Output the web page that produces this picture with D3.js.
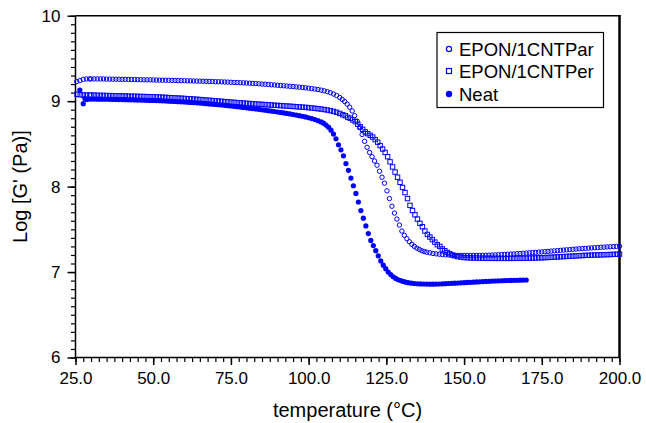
<!DOCTYPE html>
<html>
<head>
<meta charset="utf-8">
<script src="https://cdn.jsdelivr.net/npm/d3@7"></script>
<style>
  body { margin: 0; background: #fff; }
  text { font-family: Arial, "Liberation Sans", sans-serif; fill: #000; }
</style>
</head>
<body>
<svg id="chart" width="646" height="423"></svg>
<script>
// Storage modulus vs temperature, three epoxy samples
const seriesNames = ["EPON/1CNTPar", "EPON/1CNTPer", "Neat"];
const xTicks = [25, 50, 75, 100, 125, 150, 175, 200];
const yTicks = [6, 7, 8, 9, 10];
const xLabel = "temperature (°C)";
const yLabel = "Log [G' (Pa)]";

// [temperature °C, log G']
const par = [
  [25.4,9.23],[26.4,9.24],[27.5,9.255],[28.5,9.26],[29.5,9.26],
  [30,9.26],[31,9.26],[32,9.26],[33,9.26],[34,9.26],[35,9.258],[36,9.258],[37,9.257],[38,9.257],[39,9.256],
  [40,9.255],[41,9.255],[42,9.254],[43,9.253],[44,9.253],[45,9.252],[46,9.251],[47,9.25],[48,9.25],[49,9.249],
  [50,9.248],[51,9.247],[52,9.246],[53,9.245],[54,9.245],[55,9.244],[56,9.243],[57,9.242],[58,9.241],[59,9.24],
  [60,9.239],[61,9.238],[62,9.237],[63,9.236],[64,9.235],[65,9.234],[66,9.233],[67,9.232],[68,9.231],[69,9.23],
  [70,9.228],[71,9.227],[72,9.226],[73,9.224],[74,9.223],[75,9.221],[76,9.219],[77,9.218],[78,9.216],[79,9.214],
  [80,9.212],[81,9.21],[82,9.208],[83,9.206],[84,9.203],[85,9.2],[86,9.198],[87,9.195],[88,9.192],[89,9.189],
  [90,9.186],[91,9.183],[92,9.18],[93,9.177],[94,9.174],[95,9.171],[96,9.167],[97,9.164],[98,9.16],[99,9.156],
  [100,9.152],[101,9.147],[102,9.142],[103,9.136],[104,9.129],[105,9.121],[106,9.111],[107,9.099],[108,9.084],[109,9.066],
  [110,9.043],[110.8,9.02],[111.6,8.995],[112.4,8.965],[113.2,8.93],[114,8.885],[114.8,8.83],[115.6,8.765],[116.4,8.69],[117.2,8.61],
  [118,8.53],[118.8,8.46],[119.6,8.40],[120.4,8.35],[121.2,8.30],[122,8.25],[122.8,8.18],[123.6,8.11],[124.4,8.04],[125.2,7.95],
  [126,7.86],[126.8,7.77],[127.6,7.69],[128.4,7.62],[129.2,7.55],[130,7.48],[130.8,7.43],[131.6,7.39],[132.4,7.355],[133.2,7.325],
  [134,7.30],[134.8,7.28],[135.6,7.265],[136.4,7.25],[137.2,7.24],[138,7.232],[139,7.225],[140,7.218],[141,7.213],[142,7.209],
  [143,7.205],[144,7.202],[145,7.2],[146,7.198],[147,7.197],[148,7.196],[149,7.195],[150,7.195],[151,7.194],[152,7.194],
  [153,7.194],[154,7.194],[155,7.195],[156,7.196],[157,7.197],[158,7.198],[159,7.199],[160,7.2],[161,7.202],[162,7.204],
  [163,7.206],[164,7.208],[165,7.21],[166,7.212],[167,7.215],[168,7.217],[169,7.22],[170,7.222],[171,7.225],[172,7.228],
  [173,7.23],[174,7.233],[175,7.236],[176,7.239],[177,7.242],[178,7.245],[179,7.248],[180,7.251],[181,7.254],[182,7.257],
  [183,7.26],[184,7.263],[185,7.266],[186,7.269],[187,7.272],[188,7.275],[189,7.277],[190,7.28],[191,7.282],[192,7.285],
  [193,7.287],[194,7.29],[195,7.292],[196,7.294],[197,7.296],[198,7.298],[199,7.3],[200,7.302]
];

const per = [
  [25.5,9.08],[26.5,9.075],[27.5,9.072],[28.5,9.071],[29.5,9.07],
  [30,9.07],[31,9.07],[32,9.069],[33,9.068],[34,9.067],[35,9.066],[36,9.065],[37,9.064],[38,9.063],[39,9.062],
  [40,9.061],[41,9.06],[42,9.059],[43,9.058],[44,9.057],[45,9.056],[46,9.055],[47,9.054],[48,9.053],[49,9.052],
  [50,9.051],[51,9.05],[52,9.048],[53,9.046],[54,9.044],[55,9.042],[56,9.04],[57,9.038],[58,9.036],[59,9.034],
  [60,9.032],[61,9.029],[62,9.027],[63,9.024],[64,9.022],[65,9.019],[66,9.016],[67,9.013],[68,9.01],[69,9.007],
  [70,9.004],[71,9.001],[72,8.998],[73,8.995],[74,8.992],[75,8.989],[76,8.986],[77,8.983],[78,8.98],[79,8.977],
  [80,8.975],[81,8.972],[82,8.97],[83,8.967],[84,8.965],[85,8.962],[86,8.96],[87,8.957],[88,8.955],[89,8.952],
  [90,8.95],[91,8.948],[92,8.945],[93,8.943],[94,8.94],[95,8.938],[96,8.935],[97,8.932],[98,8.93],[99,8.927],
  [100,8.924],[101,8.92],[102,8.916],[103,8.912],[104,8.907],[105,8.902],[106,8.896],[107,8.889],[108,8.88],[109,8.87],
  [110,8.856],[111,8.84],[111.8,8.83],[112.6,8.81],[113.4,8.80],[114.2,8.78],[115,8.76],[115.8,8.73],[116.6,8.70],[117.4,8.67],
  [118.2,8.64],[119,8.62],[119.8,8.60],[120.6,8.58],[121.4,8.55],[122.2,8.52],[123,8.48],[123.8,8.44],[124.6,8.40],[125.4,8.35],
  [126.2,8.29],[127,8.23],[127.8,8.17],[128.6,8.11],[129.4,8.05],[130.2,7.99],[131,7.93],[131.8,7.86],[132.6,7.78],[133.4,7.72],
  [134.2,7.67],[135,7.62],[135.8,7.57],[136.6,7.53],[137.4,7.48],[138.2,7.44],[139,7.41],[139.8,7.38],[140.6,7.35],[141.4,7.32],
  [142.2,7.30],[143,7.27],[143.8,7.25],[144.6,7.23],[145.4,7.215],[146.2,7.2],[147,7.19],[148,7.18],[149,7.175],[150,7.17],
  [151,7.168],[152,7.166],[153,7.165],[154,7.164],[155,7.163],[156,7.162],[157,7.161],[158,7.161],[159,7.16],[160,7.16],
  [161,7.16],[162,7.16],[163,7.16],[164,7.16],[165,7.16],[166,7.16],[167,7.161],[168,7.161],[169,7.162],[170,7.162],
  [171,7.163],[172,7.164],[173,7.165],[174,7.166],[175,7.167],[176,7.169],[177,7.171],[178,7.173],[179,7.175],[180,7.177],
  [181,7.179],[182,7.181],[183,7.183],[184,7.185],[185,7.187],[186,7.189],[187,7.191],[188,7.193],[189,7.195],[190,7.196],
  [191,7.198],[192,7.199],[193,7.2],[194,7.201],[195,7.203],[196,7.204],[197,7.205],[198,7.207],[199,7.208],[200,7.21]
];

const neat = [
  [26.4,9.13],[27.5,8.97],[28,9.03],[28.6,9.02],[29.3,9.025],
  [30,9.024],[31,9.024],[32,9.023],[33,9.023],[34,9.022],[35,9.022],[36,9.021],[37,9.02],[38,9.02],[39,9.019],
  [40,9.018],[41,9.017],[42,9.016],[43,9.015],[44,9.014],[45,9.013],[46,9.012],[47,9.011],[48,9.01],[49,9.009],
  [50,9.008],[51,9.007],[52,9.005],[53,9.004],[54,9.002],[55,9.0],[56,8.998],[57,8.996],[58,8.994],[59,8.992],
  [60,8.99],[61,8.988],[62,8.985],[63,8.983],[64,8.98],[65,8.977],[66,8.974],[67,8.971],[68,8.968],[69,8.965],
  [70,8.962],[71,8.958],[72,8.955],[73,8.951],[74,8.947],[75,8.943],[76,8.939],[77,8.935],[78,8.931],[79,8.927],
  [80,8.922],[81,8.918],[82,8.913],[83,8.909],[84,8.904],[85,8.899],[86,8.894],[87,8.889],[88,8.884],[89,8.879],
  [90,8.873],[91,8.868],[92,8.862],[93,8.856],[94,8.85],[95,8.844],[96,8.837],[97,8.83],[98,8.823],[99,8.815],
  [100,8.806],[101,8.796],[102,8.785],[103,8.772],[104,8.757],[104.8,8.742],[105.6,8.72],[106.4,8.695],[107.2,8.66],[108,8.615],
  [108.8,8.56],[109.6,8.49],[110.4,8.43],[111.2,8.36],[112,8.27],[112.8,8.19],[113.6,8.10],[114.4,8.01],[115.2,7.92],[116,7.82],
  [116.8,7.72],[117.6,7.63],[118.4,7.54],[119.2,7.45],[120,7.37],[120.8,7.31],[121.6,7.25],[122.4,7.19],[123.2,7.13],[124,7.08],
  [124.8,7.04],[125.6,7.00],[126.4,6.97],[127.2,6.945],[128,6.925],[128.8,6.91],[129.6,6.9],[130.4,6.89],[131.2,6.882],[132,6.876],
  [133,6.87],[134,6.866],[135,6.863],[136,6.861],[137,6.86],[138,6.859],[139,6.858],[140,6.858],[141,6.859],[142,6.86],
  [143,6.862],[144,6.864],[145,6.866],[146,6.868],[147,6.87],[148,6.872],[149,6.874],[150,6.876],[151,6.878],[152,6.88],
  [153,6.882],[154,6.884],[155,6.886],[156,6.888],[157,6.89],[158,6.892],[159,6.894],[160,6.895],[161,6.897],[162,6.898],
  [163,6.9],[164,6.901],[165,6.902],[166,6.903],[167,6.904],[168,6.905],[169,6.906],[170,6.907]
];

const blue = "#0000ff";
const svg = d3.select("#chart");
const plot = { left: 75.5, right: 619.5, top: 15.7, bottom: 357.5 };

const x = d3.scaleLinear().domain([25, 200]).range([plot.left, plot.right]);
const y = d3.scaleLinear().domain([6, 10]).range([plot.bottom, plot.top]);

// minor ticks
svg.append("g")
  .attr("transform", `translate(0,${plot.bottom})`)
  .call(d3.axisBottom(x).tickValues(d3.range(25, 200.01, 2.5)).tickSize(4.5).tickFormat(""))
  .call(g => g.select(".domain").remove())
  .selectAll("line").attr("stroke-width", 1.2);
svg.append("g")
  .attr("transform", `translate(${plot.left},0)`)
  .call(d3.axisLeft(y).tickValues(d3.range(60, 100.5, 1).map(v => v / 10)).tickSize(4.5).tickFormat(""))
  .call(g => g.select(".domain").remove())
  .selectAll("line").attr("stroke-width", 1.2);

// major ticks and labels
const xAxis = svg.append("g")
  .attr("transform", `translate(0,${plot.bottom})`)
  .call(d3.axisBottom(x).tickValues(xTicks).tickSize(7.5).tickPadding(7).tickFormat(d3.format(".1f")))
  .call(g => g.select(".domain").remove());
xAxis.selectAll("line").attr("stroke-width", 1.5);
xAxis.selectAll("text").attr("font-size", 17).attr("font-family", "Arial, 'Liberation Sans', sans-serif");

const yAxis = svg.append("g")
  .attr("transform", `translate(${plot.left},0)`)
  .call(d3.axisLeft(y).tickValues(yTicks).tickSize(8).tickPadding(7).tickFormat(d3.format("d")))
  .call(g => g.select(".domain").remove());
yAxis.selectAll("line").attr("stroke-width", 1.5);
yAxis.selectAll("text").attr("font-size", 17).attr("font-family", "Arial, 'Liberation Sans', sans-serif");

// frame
const frame = svg.append("g").attr("stroke", "#000").attr("fill", "none");
frame.append("line").attr("x1", plot.left).attr("x2", plot.right + 1).attr("y1", plot.top).attr("y2", plot.top).attr("stroke-width", 1.5);
frame.append("line").attr("x1", plot.left).attr("x2", plot.right).attr("y1", plot.bottom).attr("y2", plot.bottom).attr("stroke-width", 1.5);
frame.append("line").attr("x1", plot.left).attr("x2", plot.left).attr("y1", plot.top).attr("y2", plot.bottom + 0.5).attr("stroke-width", 1.5);
frame.append("line").attr("x1", plot.right).attr("x2", plot.right).attr("y1", plot.top - 0.7).attr("y2", plot.bottom).attr("stroke-width", 2.5);

// data markers
const marks = svg.append("g");
marks.append("g").selectAll("circle").data(par).join("circle")
  .attr("cx", d => x(d[0])).attr("cy", d => y(d[1])).attr("r", 2.2)
  .attr("fill", "none").attr("stroke", blue).attr("stroke-width", 1);
const sq = 4.4;
marks.append("g").selectAll("rect").data(per).join("rect")
  .attr("x", d => x(d[0]) - sq / 2).attr("y", d => y(d[1]) - sq / 2)
  .attr("width", sq).attr("height", sq)
  .attr("fill", "none").attr("stroke", blue).attr("stroke-width", 1);
marks.append("g").selectAll("circle").data(neat).join("circle")
  .attr("cx", d => x(d[0])).attr("cy", d => y(d[1])).attr("r", 2.6)
  .attr("fill", blue);

// axis titles
svg.append("text")
  .attr("x", (plot.left + plot.right) / 2).attr("y", 417)
  .attr("text-anchor", "middle").attr("font-size", 20)
  .text(xLabel);
svg.append("text")
  .attr("transform", `translate(27,${(plot.top + plot.bottom) / 2}) rotate(-90)`)
  .attr("text-anchor", "middle").attr("font-size", 20)
  .text(yLabel);

// legend
const legend = svg.append("g");
legend.append("rect").attr("x", 437).attr("y", 32.5).attr("width", 166.5).attr("height", 75)
  .attr("fill", "#fff").attr("stroke", "#000").attr("stroke-width", 1.2);
const rows = [49, 71, 94];
seriesNames.forEach((name, i) => {
  const cy = rows[i];
  if (i === 0) {
    legend.append("circle").attr("cx", 449).attr("cy", cy).attr("r", 2.6)
      .attr("fill", "none").attr("stroke", blue).attr("stroke-width", 1.2);
  } else if (i === 1) {
    legend.append("rect").attr("x", 446.5).attr("y", cy - 2.5).attr("width", 5).attr("height", 5)
      .attr("fill", "none").attr("stroke", blue).attr("stroke-width", 1.2);
  } else {
    legend.append("circle").attr("cx", 449).attr("cy", cy).attr("r", 3.2).attr("fill", blue);
  }
  legend.append("text").attr("x", 459).attr("y", cy).attr("dy", "0.36em")
    .attr("font-size", 18.5).text(name);
});
</script>
</body>
</html>
